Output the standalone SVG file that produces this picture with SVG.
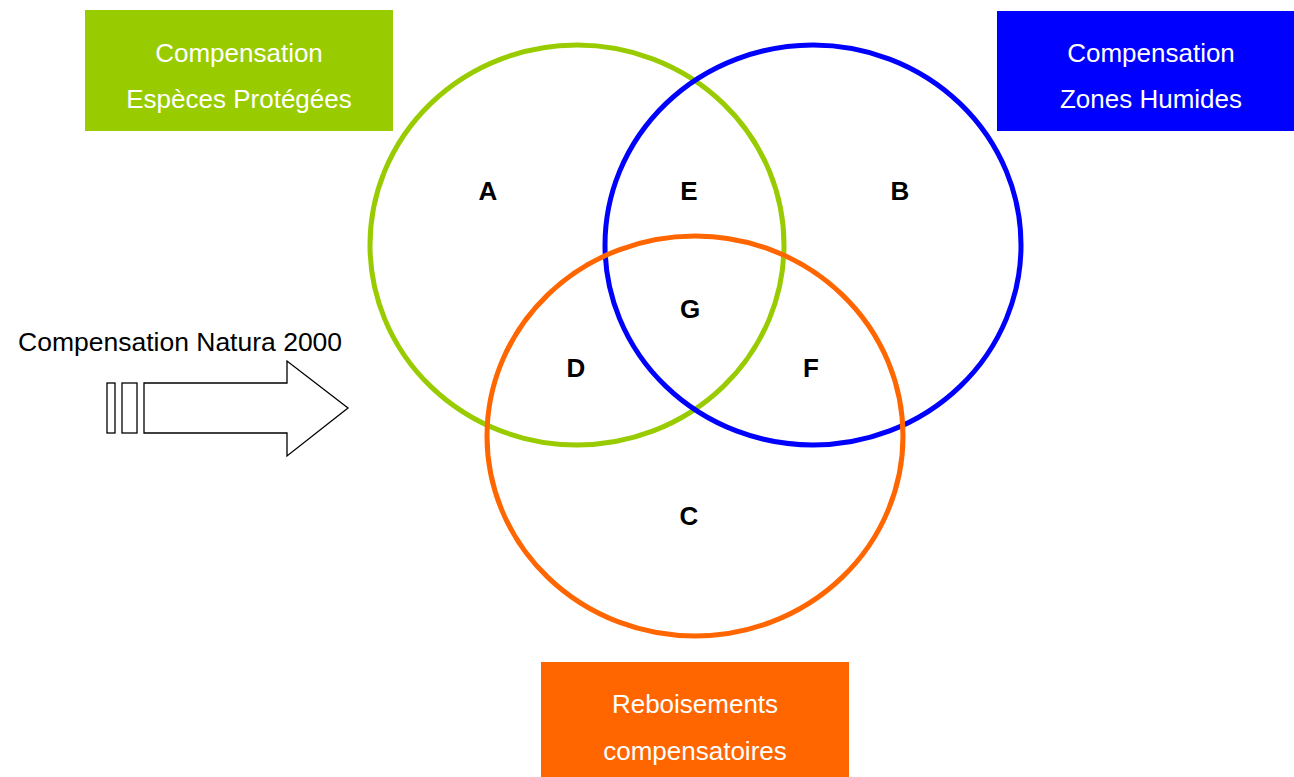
<svg xmlns="http://www.w3.org/2000/svg" width="1294" height="777" viewBox="0 0 1294 777">
<style>
.box text{font-family:"Liberation Sans",Arial,sans-serif;font-size:26px;fill:#fff;text-anchor:middle}
.ring{fill:none;stroke-width:5}
.lbl{font-family:"Liberation Sans",Arial,sans-serif;font-size:26px;font-weight:bold;fill:#000;text-anchor:middle}
.out{fill:#fff;stroke:#000;stroke-width:1.3}
</style>
<rect width="1294" height="777" fill="#fff"/>
<g id="box-especes" class="box">
<rect x="85" y="10" width="308" height="121" fill="#99cc00"/>
<text x="239" y="62">Compensation</text>
<text x="239" y="108">Espèces Protégées</text>
</g>
<g id="box-zones" class="box">
<rect x="997" y="11" width="297" height="120" fill="#0000ff"/>
<text x="1151" y="62">Compensation</text>
<text x="1151" y="108">Zones Humides</text>
</g>
<g id="box-reboisements" class="box">
<rect x="541" y="662" width="308" height="115" fill="#ff6600"/>
<text x="695" y="713">Reboisements</text>
<text x="695" y="760">compensatoires</text>
</g>
<g id="circle-green"><ellipse class="ring" cx="577" cy="245" rx="207" ry="200" stroke="#99cc00"/></g>
<g id="circle-blue"><ellipse class="ring" cx="813" cy="245" rx="208" ry="200" stroke="#0000ff"/></g>
<g id="circle-orange"><ellipse class="ring" cx="695" cy="436" rx="208" ry="200" stroke="#ff6600"/></g>
<g id="labels">
<text class="lbl" x="488" y="200">A</text>
<text class="lbl" x="689" y="200">E</text>
<text class="lbl" x="900" y="200">B</text>
<text class="lbl" x="690" y="318">G</text>
<text class="lbl" x="576" y="377">D</text>
<text class="lbl" x="811" y="377">F</text>
<text class="lbl" x="689" y="525">C</text>
</g>
<g id="natura">
<text x="18" y="351" font-family="Liberation Sans,Arial,sans-serif" font-size="26.5" fill="#000">Compensation Natura 2000</text>
<rect class="out" x="107" y="383" width="8" height="50"/>
<rect class="out" x="122" y="383" width="15" height="50"/>
<polygon class="out" points="144,383 287,383 287,361 348,408 287,456 287,433 144,433"/>
</g>
</svg>
